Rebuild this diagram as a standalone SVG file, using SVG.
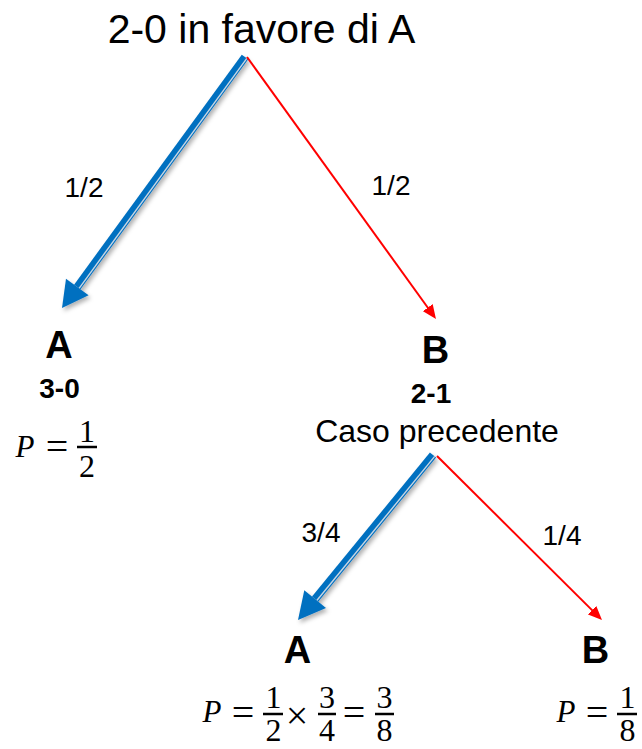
<svg xmlns="http://www.w3.org/2000/svg" width="642" height="749" viewBox="0 0 642 749">
<defs>
<style>
.sans{font-family:"Liberation Sans",Arial,sans-serif;fill:#000}
.title{font-size:41px;text-anchor:middle}
.big{font-size:38px;font-weight:bold;text-anchor:middle}
.score{font-size:28px;font-weight:bold;text-anchor:middle}
.lbl{font-size:28px;text-anchor:middle}
.sub{font-size:32px;text-anchor:middle}
.math{font-family:"Liberation Serif","Times New Roman",serif;fill:#000}
.pv{font-style:italic;font-size:31px;text-anchor:middle}
.dig{font-size:32px;text-anchor:middle}
.op{font-size:40px;text-anchor:middle}
.bar{stroke:#000;stroke-width:2.5}
.band{stroke:#0070C0;stroke-width:8;fill:none}
.stripe{stroke:#c9d6e3;stroke-width:1.4;fill:none}
.head{fill:#0070C0}
.red{stroke:#FF0000;stroke-width:2;fill:none}
</style>
<filter id="sh" x="-20%" y="-20%" width="140%" height="140%">
<feDropShadow dx="2" dy="3" stdDeviation="2" flood-color="#000" flood-opacity="0.3"/>
</filter>
<marker id="rh" markerUnits="userSpaceOnUse" markerWidth="14" markerHeight="12" refX="6" refY="6" orient="auto">
<path d="M0,0 L14,6 L0,12 z" fill="#FF0000"/>
</marker>
</defs>
<rect width="642" height="749" fill="#fff"/>

<g id="connectors">
<g id="edge-root-A" filter="url(#sh)">
<line class="band" x1="245" y1="57" x2="77.3" y2="287"/>
<line class="stripe" x1="246.8" y1="58.3" x2="79.1" y2="288.3"/>
<polygon class="head" points="62,308 88.6,295.2 66,278.8"/>
</g>
<line id="edge-root-B" class="red" x1="247" y1="57" x2="431.3" y2="312.5" marker-end="url(#rh)"/>
<g id="edge-B-A2" filter="url(#sh)">
<line class="band" x1="433" y1="455" x2="315.1" y2="599.1"/>
<line class="stripe" x1="434.7" y1="456.4" x2="316.8" y2="600.5"/>
<polygon class="head" points="298,620 326,608 304.3,590.2"/>
</g>
<line id="edge-B-B2" class="red" x1="437" y1="456" x2="596.3" y2="614.4" marker-end="url(#rh)"/>
<text class="sans lbl" x="84" y="197">1/2</text>
<text class="sans lbl" x="391" y="195">1/2</text>
<text class="sans lbl" x="321" y="542">3/4</text>
<text class="sans lbl" x="562" y="545">1/4</text>
</g>

<g id="root">
<text class="sans title" x="261.5" y="43">2-0 in favore di A</text>
</g>

<g id="nodeA1">
<text class="sans big" x="59" y="358">A</text>
<text class="sans score" x="59.5" y="398">3-0</text>
<text class="math pv" x="25" y="457">P</text>
<text class="math op" x="57" y="460">=</text>
<text class="math dig" x="87" y="442">1</text>
<line class="bar" x1="77" y1="447" x2="97" y2="447"/>
<text class="math dig" x="87" y="477">2</text>
</g>

<g id="nodeB1">
<text class="sans big" x="435.5" y="363">B</text>
<text class="sans score" x="431" y="403">2-1</text>
<text class="sans sub" x="437" y="442">Caso precedente</text>
</g>

<g id="nodeA2">
<text class="sans big" x="297.5" y="663">A</text>
<text class="math pv" x="212" y="722">P</text>
<text class="math op" x="243" y="726">=</text>
<text class="math dig" x="273.5" y="708">1</text>
<line class="bar" x1="263" y1="714" x2="283" y2="714"/>
<text class="math dig" x="273.5" y="741">2</text>
<text class="math op" x="297" y="729">×</text>
<text class="math dig" x="327" y="708">3</text>
<line class="bar" x1="318" y1="714" x2="336" y2="714"/>
<text class="math dig" x="327" y="741">4</text>
<text class="math op" x="354" y="726">=</text>
<text class="math dig" x="384.5" y="708">3</text>
<line class="bar" x1="375" y1="714" x2="394" y2="714"/>
<text class="math dig" x="384.5" y="741">8</text>
</g>

<g id="nodeB2">
<text class="sans big" x="595.5" y="663">B</text>
<text class="math pv" x="566" y="722">P</text>
<text class="math op" x="597" y="726">=</text>
<text class="math dig" x="627.5" y="708">1</text>
<line class="bar" x1="617" y1="714" x2="637" y2="714"/>
<text class="math dig" x="627.5" y="741">8</text>
</g>
</svg>
